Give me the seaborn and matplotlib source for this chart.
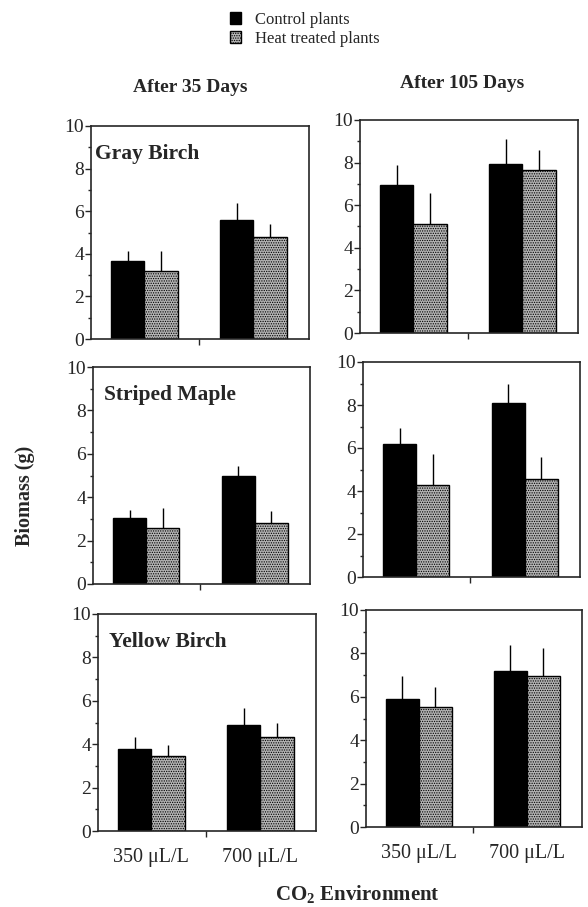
import matplotlib
matplotlib.use("Agg")
import matplotlib.pyplot as plt
import seaborn as sns
import numpy as np
import pandas as pd
from matplotlib.patches import Patch
from matplotlib.ticker import MultipleLocator, FixedLocator

# data
species = ["Gray Birch", "Striped Maple", "Yellow Birch"]
periods = ["After 35 Days", "After 105 Days"]
co2_levels = ["350 \u03bcL/L", "700 \u03bcL/L"]
treatments = ["Control plants", "Heat treated plants"]

# mean biomass [species][period][co2] for each treatment
control_mean = [[[3.65, 5.6], [6.95, 7.95]],
                [[3.05, 5.0], [6.2, 8.1]],
                [[3.8, 4.9], [5.9, 7.2]]]
heat_mean = [[[3.2, 4.8], [5.1, 7.65]],
             [[2.6, 2.8], [4.3, 4.55]],
             [[3.45, 4.35], [5.55, 6.95]]]
# upper error bar lengths
control_err = [[[0.5, 0.8], [0.95, 1.15]],
               [[0.35, 0.45], [0.75, 0.9]],
               [[0.55, 0.75], [1.05, 1.2]]]
heat_err = [[[0.95, 0.6], [1.45, 0.95]],
            [[0.9, 0.55], [1.4, 1.05]],
            [[0.5, 0.65], [0.9, 1.3]]]

rows = []
for i, sp in enumerate(species):
    for j, per in enumerate(periods):
        for k, co2 in enumerate(co2_levels):
            rows.append([sp, per, co2, treatments[0], control_mean[i][j][k], control_err[i][j][k]])
            rows.append([sp, per, co2, treatments[1], heat_mean[i][j][k], heat_err[i][j][k]])
df = pd.DataFrame(rows, columns=["species", "period", "co2", "treatment", "biomass", "err"])

sns.set_style("ticks")
plt.rcParams["font.family"] = ["Liberation Serif", "DejaVu Serif"]
plt.rcParams["mathtext.fontset"] = "custom"
plt.rcParams["mathtext.rm"] = "Liberation Serif"
plt.rcParams["mathtext.bf"] = "Liberation Serif:bold"
plt.rcParams["hatch.linewidth"] = 0.6
plt.rcParams["axes.linewidth"] = 1.2

W, H = 588, 907
fig = plt.figure(figsize=(W / 100, H / 100), dpi=100)

# pixel boxes (left, top, right, bottom) for each panel
boxes = [[(91, 126, 309, 339), (360, 120, 578, 333)],
         [(93, 367, 310, 584), (363, 362, 580, 577)],
         [(98, 614, 316, 831), (366, 610, 582, 827)]]
title_x = [0.02, 0.05, 0.05]

heat_color = "#b4b4b4"

for i, sp in enumerate(species):
    for j, per in enumerate(periods):
        l, t, r, b = boxes[i][j]
        ax = fig.add_axes([l / W, 1 - b / H, (r - l) / W, (b - t) / H])
        sub = df[(df.species == sp) & (df.period == per)]
        sns.barplot(data=sub, x="co2", y="biomass", hue="treatment",
                    order=co2_levels, hue_order=treatments,
                    palette=["black", heat_color], width=0.61,
                    edgecolor="black", linewidth=1.0, errorbar=None,
                    legend=False, ax=ax)
        bar_sets = list(ax.containers)
        for h, cont in enumerate(bar_sets):
            xs, ys, es = [], [], []
            for k, bar in enumerate(cont.patches):
                if h == 1:
                    bar.set_hatch(".......")
                xs.append(bar.get_x() + bar.get_width() / 2)
                ys.append(bar.get_height())
                es.append(sub[(sub.co2 == co2_levels[k]) & (sub.treatment == treatments[h])].err.iloc[0])
            ax.errorbar(xs, ys, yerr=[np.zeros(len(es)), es], fmt="none",
                        ecolor="black", elinewidth=1.0, capsize=0, zorder=1)
        ax.set_ylim(0, 10)
        ax.set_xlim(-0.49, 1.51)
        ax.yaxis.set_major_locator(MultipleLocator(2))
        ax.yaxis.set_minor_locator(MultipleLocator(1))
        ax.tick_params(axis="y", which="major", length=4, width=1, labelsize=14, pad=1)
        ax.tick_params(axis="y", which="minor", length=2.5, width=1)
        ax.xaxis.set_minor_locator(FixedLocator([0.5]))
        ax.tick_params(axis="x", which="major", length=0, labelsize=14.5, pad=12)
        ax.tick_params(axis="x", which="minor", length=4, width=1)
        ax.set_xlabel("")
        ax.set_ylabel("")
        if i < 2:
            ax.set_xticklabels([])
        for s in ax.spines.values():
            s.set_visible(True)
            s.set_linewidth(1.2)
        if j == 0:
            ax.text(title_x[i], 0.87, sp, transform=ax.transAxes, fontsize=15.5,
                    fontweight="bold", va="center")

fig.text(190 / W, 1 - 88 / H, periods[0], ha="center", va="center", fontsize=14, fontweight="bold")
fig.text(462 / W, 1 - 83 / H, periods[1], ha="center", va="center", fontsize=14, fontweight="bold")
fig.text(25 / W, 1 - 496 / H, "Biomass (g)", rotation=90, ha="center", va="center",
         fontsize=14.5, fontweight="bold")
fig.text(357 / W, 1 - 895 / H, "CO$_\\mathbf{2}$ Environment", ha="center", va="center",
         fontsize=15, fontweight="bold")

handles = [Patch(facecolor="black", edgecolor="black"),
           Patch(facecolor=heat_color, edgecolor="black", hatch=".......")]
fig.legend(handles, treatments, loc="upper left", bbox_to_anchor=(223 / W, 1 - 5 / H),
           frameon=False, fontsize=12, handlelength=0.7, handleheight=0.7,
           handletextpad=0.8, labelspacing=0.2, borderaxespad=0)

fig.savefig("out.png", dpi=100)
